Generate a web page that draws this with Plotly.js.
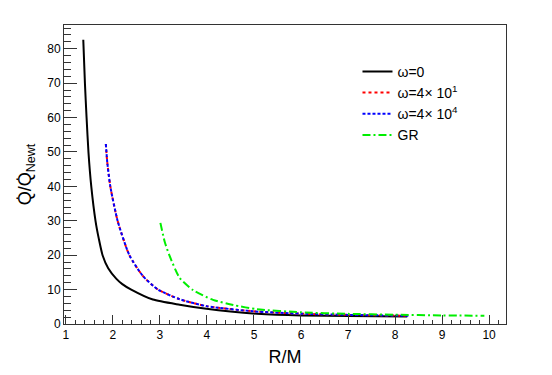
<!DOCTYPE html>
<html>
<head>
<meta charset="utf-8">
<script src="https://cdn.plot.ly/plotly-3.0.1.min.js"></script>
<style>html,body{margin:0;padding:0;background:#fff;}#chart{width:552px;height:375px;}</style>
</head>
<body>
<div id="chart"></div>
<script>
// omega = 0
const omega0_x = [1.37, 1.405, 1.44, 1.48, 1.54, 1.63, 1.70, 1.78, 1.90, 2.07, 2.20, 2.39, 2.85, 3.42, 3.99, 4.5, 5.06, 6, 7, 8.26];
const omega0_y = [82.6, 70, 60, 50, 40, 30, 24.8, 20, 16.2, 13.2, 11.6, 10, 7.1, 5.6, 4.4, 3.6, 3.0, 2.5, 2.3, 2.2];
// omega = 4x10^1
const omega40_x = [1.85, 1.88, 1.945, 2.10, 2.35, 2.64, 2.96, 3.42, 3.99, 4.98, 6, 7, 8.3];
const omega40_y = [52.3, 47, 40, 30, 20, 13.9, 10, 7.2, 5.2, 3.7, 3.0, 2.65, 2.4];
// omega = 4x10^4
const omega4e4_x = [1.85, 1.88, 1.945, 2.10, 2.35, 2.64, 2.96, 3.42, 3.99, 4.98, 6, 7, 8.3];
const omega4e4_y = [52.3, 47, 40, 30, 20, 13.9, 10, 7.2, 5.2, 3.7, 3.0, 2.65, 2.4];
// GR
const gr_x = [3.01, 3.10, 3.20, 3.42, 3.70, 4.13, 4.56, 5.06, 6, 7, 8, 9, 9.9];
const gr_y = [29.4, 24, 20, 13.4, 9.9, 7.0, 5.5, 4.3, 3.4, 2.95, 2.7, 2.5, 2.4];

const seriesNames = ["ω=0", "ω=4× 10<sup>1</sup>", "ω=4× 10<sup>4</sup>", "GR"];
const xTitle = "R/M";
const yTitle = "Q\u0307/Q\u0307<sub>Newt</sub>";

const FONT = "Liberation Sans, Arial, Helvetica, sans-serif";

const traces = [
  {x: omega0_x, y: omega0_y, name: seriesNames[0], mode: "lines",
   line: {color: "#000000", width: 2, shape: "spline", smoothing: 0.6}},
  {x: omega40_x, y: omega40_y, name: seriesNames[1], mode: "lines",
   line: {color: "#ff0000", width: 2, dash: "dot", shape: "spline", smoothing: 0.6}},
  {x: omega4e4_x, y: omega4e4_y, name: seriesNames[2], mode: "lines",
   line: {color: "#0000ff", width: 2, dash: "3px,2px", shape: "spline", smoothing: 0.6}},
  {x: gr_x, y: gr_y, name: seriesNames[3], mode: "lines",
   line: {color: "#00ee00", width: 2, dash: "8px,3px,2px,3px", shape: "spline", smoothing: 0.6}}
];

const layout = {
  width: 552, height: 375,
  margin: {l: 64, r: 46, t: 25, b: 51},
  paper_bgcolor: "#ffffff", plot_bgcolor: "#ffffff",
  font: {family: FONT, color: "#000000", size: 12},
  showlegend: true,
  legend: {x: 0.664, y: 0.897, xanchor: "left", yanchor: "top",
    bgcolor: "rgba(255,255,255,0)", borderwidth: 0,
    font: {family: FONT, size: 14, color: "#000"}},
  xaxis: {
    range: [0.96, 10.36], showgrid: false, zeroline: false,
    showline: true, linecolor: "#333", linewidth: 1, mirror: true,
    ticks: "inside", ticklen: 9, tickwidth: 1, tickcolor: "#333",
    dtick: 1, tick0: 0, tickfont: {family: FONT, size: 12},
    minor: {dtick: 0.2, ticks: "inside", ticklen: 4.5, tickcolor: "#333", showgrid: false},
    title: {text: xTitle, font: {family: FONT, size: 18}, standoff: 8}
  },
  yaxis: {
    range: [0, 86.9], showgrid: false, zeroline: false,
    showline: true, linecolor: "#333", linewidth: 1, mirror: true,
    ticks: "inside", ticklen: 13, tickwidth: 1, tickcolor: "#333",
    dtick: 10, tick0: 0, tickfont: {family: FONT, size: 12},
    minor: {dtick: 2, ticks: "inside", ticklen: 6.5, tickcolor: "#333", showgrid: false},
    title: {text: yTitle, font: {family: FONT, size: 18}, standoff: 10}
  }
};

Plotly.newPlot("chart", traces, layout, {staticPlot: true, displayModeBar: false});
</script>
</body>
</html>
